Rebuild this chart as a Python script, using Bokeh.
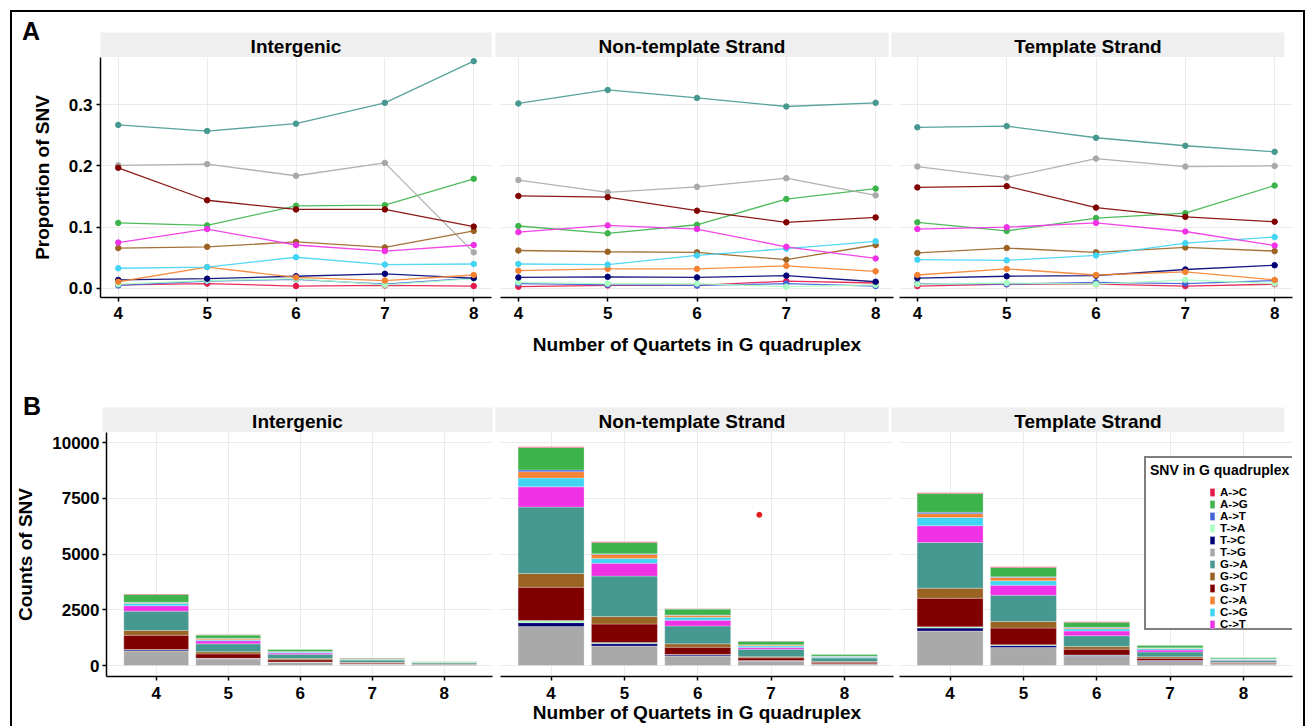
from bokeh.plotting import figure
from bokeh.layouts import row, column
from bokeh.models import (Range1d, FixedTicker, NumeralTickFormatter, Legend, LegendItem,
                          ColumnDataSource, Div)
from bokeh.embed import file_html
from bokeh.resources import INLINE
from bokeh.core.properties import value

FONT = "Liberation Sans"

# ---------------- data ----------------
quartets = [4, 5, 6, 7, 8]
facets = ["Intergenic", "Non-template Strand", "Template Strand"]

# legend order
snv_types = ["A->C", "A->G", "A->T", "T->A", "T->C", "T->G",
             "G->A", "G->C", "G->T", "C->A", "C->G", "C->T"]
snv_colors = ["#e6194b", "#3cb44b", "#4363d8", "#aaffc3", "#000075", "#a9a9a9",
              "#469990", "#9a6324", "#800000", "#f58231", "#42d4f4", "#f032e6"]
# stacking order in bars (bottom -> top)
stack_order = ["T->G", "T->C", "T->A", "G->T", "G->C", "G->A",
               "C->T", "C->G", "C->A", "A->T", "A->G", "A->C"]

# Proportion of SNV (panel A), per facet
prop_intergenic = {
    "A->C": [0.006, 0.008, 0.004, 0.005, 0.004],
    "A->G": [0.107, 0.103, 0.135, 0.136, 0.179],
    "A->T": [0.005, 0.012, 0.015, 0.007, 0.017],
    "T->A": [0.007, 0.013, 0.016, 0.006, 0.016],
    "T->C": [0.014, 0.016, 0.020, 0.024, 0.017],
    "T->G": [0.201, 0.203, 0.184, 0.205, 0.059],
    "G->A": [0.267, 0.257, 0.269, 0.303, 0.371],
    "G->C": [0.066, 0.068, 0.076, 0.067, 0.094],
    "G->T": [0.197, 0.144, 0.129, 0.129, 0.101],
    "C->A": [0.011, 0.035, 0.018, 0.013, 0.022],
    "C->G": [0.033, 0.035, 0.051, 0.039, 0.040],
    "C->T": [0.075, 0.097, 0.071, 0.061, 0.071],
}
prop_nontemplate = {
    "A->C": [0.003, 0.005, 0.005, 0.012, 0.009],
    "A->G": [0.102, 0.090, 0.104, 0.146, 0.163],
    "A->T": [0.008, 0.006, 0.005, 0.008, 0.004],
    "T->A": [0.010, 0.008, 0.008, 0.003, 0.006],
    "T->C": [0.018, 0.019, 0.018, 0.021, 0.011],
    "T->G": [0.177, 0.157, 0.166, 0.180, 0.152],
    "G->A": [0.302, 0.324, 0.311, 0.297, 0.303],
    "G->C": [0.062, 0.060, 0.059, 0.047, 0.071],
    "G->T": [0.151, 0.149, 0.127, 0.108, 0.116],
    "C->A": [0.029, 0.032, 0.032, 0.037, 0.028],
    "C->G": [0.040, 0.039, 0.054, 0.065, 0.077],
    "C->T": [0.092, 0.103, 0.097, 0.068, 0.049],
}
prop_template = {
    "A->C": [0.004, 0.007, 0.007, 0.004, 0.007],
    "A->G": [0.108, 0.094, 0.115, 0.123, 0.168],
    "A->T": [0.008, 0.007, 0.010, 0.008, 0.013],
    "T->A": [0.007, 0.009, 0.007, 0.014, 0.008],
    "T->C": [0.017, 0.020, 0.021, 0.031, 0.038],
    "T->G": [0.199, 0.181, 0.212, 0.199, 0.200],
    "G->A": [0.263, 0.265, 0.246, 0.233, 0.223],
    "G->C": [0.058, 0.066, 0.059, 0.067, 0.061],
    "G->T": [0.165, 0.167, 0.132, 0.117, 0.109],
    "C->A": [0.022, 0.032, 0.022, 0.027, 0.014],
    "C->G": [0.047, 0.046, 0.054, 0.074, 0.084],
    "C->T": [0.097, 0.100, 0.107, 0.093, 0.070],
}

# Total counts of SNV per bar (panel B)
total_intergenic = [3210, 1380, 730, 335, 180]
total_nontemplate = [9810, 5550, 2545, 1105, 510]
total_template = [7745, 4430, 1960, 915, 365]

# stray point visible in the Non-template counts panel
stray_x = [6.84]
stray_y = [6760]

prop_list = [prop_intergenic, prop_nontemplate, prop_template]
total_list = [total_intergenic, total_nontemplate, total_template]

# ---------------- helpers ----------------
GRID = "#ebebeb"


def style_axes(p, tick_size):
    for ax in p.axis:
        ax.axis_line_color = "black"
        ax.axis_line_width = 1.5
        ax.major_tick_line_color = "black"
        ax.major_tick_line_width = 1.5
        ax.major_tick_out = 4
        ax.major_tick_in = 0
        ax.minor_tick_line_color = None
        ax.major_label_text_font = FONT
        ax.major_label_text_font_style = "bold"
        ax.major_label_text_font_size = tick_size
        ax.major_label_text_color = "black"
        ax.axis_label_text_font = FONT
        ax.axis_label_text_font_style = "bold"
        ax.axis_label_text_font_size = "19px"
        ax.axis_label_text_color = "black"


def base_fig(width, height, xr, yr, left, right, top, bottom, show_y):
    p = figure(width=width, height=height, x_range=xr, y_range=yr, title=None,
               output_backend="svg", toolbar_location=None,
               y_axis_location="left" if show_y else None,
               min_border_left=left, min_border_right=right,
               min_border_top=top, min_border_bottom=bottom)
    p.outline_line_color = None
    p.border_fill_color = "white"
    p.background_fill_color = "white"
    p.grid.grid_line_color = GRID
    p.grid.grid_line_width = 1
    return p


def strip_fig(label, width, right, top):
    p = figure(width=width, height=top + 25, x_range=Range1d(0, 1), y_range=Range1d(0, 1),
               title=None, output_backend="svg", toolbar_location=None,
               x_axis_location=None, y_axis_location=None,
               min_border_left=0, min_border_right=right,
               min_border_top=top, min_border_bottom=0)
    p.grid.visible = False
    p.outline_line_color = None
    p.background_fill_color = "#efefef"
    p.border_fill_color = "white"
    p.text(x=[0.5], y=[0.45], text=[label], text_align="center", text_baseline="middle",
           text_font=value(FONT), text_font_style="bold", text_font_size="19px",
           text_color="black")
    return p


def letter_div(letter, width, height, dx, dy):
    html = ('<div style="position:relative; left:%dpx; top:%dpx; font-family:\'%s\';'
            ' font-weight:bold; font-size:25px; line-height:25px; color:black;">%s</div>'
            % (dx, dy, FONT, letter))
    return Div(text=html, width=width, height=height, margin=0)


# column geometry: (fig width, left border, right border)
geomA = [(483, 88, 4), (401, 5, 3), (407, 3, 11)]
geomB = [(483, 90, 3), (401, 5, 3), (407, 3, 11)]
XLABEL = "Number of Quartets in G quadruplex"

# ---------------- panel A ----------------
stripsA = [letter_div("A", 88, 45, 10, 7)]
mainsA = []
for i, (name, props) in enumerate(zip(facets, prop_list)):
    w, l, r = geomA[i]
    stripsA.append(strip_fig(name, w - l, r, 20))
    p = base_fig(w, 306, Range1d(3.8, 8.2), Range1d(-0.0147, 0.377), l, r, 0, 66, i == 0)
    p.xgrid.ticker = FixedTicker(ticks=quartets)
    p.ygrid.ticker = FixedTicker(ticks=[0.0, 0.1, 0.2, 0.3])
    for t, c in zip(snv_types, snv_colors):
        p.line(quartets, props[t], line_color=c, line_width=1.3, line_alpha=0.9)
        p.scatter(quartets, props[t], size=5.5, fill_color=c, line_color=c)
    p.xaxis.ticker = FixedTicker(ticks=quartets)
    p.xaxis.major_label_standoff = 5
    if i == 0:
        p.yaxis.ticker = FixedTicker(ticks=[0.0, 0.1, 0.2, 0.3])
        p.yaxis.formatter = NumeralTickFormatter(format="0.0")
        p.yaxis.axis_label = "Proportion of SNV"
        p.yaxis.axis_label_standoff = 13
        p.yaxis.major_label_standoff = 4
    if i == 1:
        p.xaxis.axis_label = XLABEL
        p.xaxis.axis_label_standoff = 12
    style_axes(p, "17px")
    mainsA.append(p)

# ---------------- panel B ----------------
stripsB = [letter_div("B", 90, 69, 11, 31)]
mainsB = []
for i, (name, props, totals) in enumerate(zip(facets, prop_list, total_list)):
    w, l, r = geomB[i]
    stripsB.append(strip_fig(name, w - l, r, 44))
    p = base_fig(w, 294, Range1d(3.31, 8.67), Range1d(-490, 10450), l, r, 0, 50, i == 0)
    p.xgrid.ticker = FixedTicker(ticks=quartets)
    p.ygrid.ticker = FixedTicker(ticks=[0, 2500, 5000, 7500, 10000])
    # counts per SNV type = bar total split by the panel-A shares
    data = {"x": quartets}
    sums = [sum(props[t][k] for t in snv_types) for k in range(len(quartets))]
    for t in snv_types:
        data[t] = [totals[k] * props[t][k] / sums[k] for k in range(len(quartets))]
    src = ColumnDataSource(data)
    stack_colors = [snv_colors[snv_types.index(t)] for t in stack_order]
    bars = p.vbar_stack(stack_order, x="x", width=0.9, source=src,
                        fill_color=stack_colors, line_color="white",
                        line_width=0.4, line_alpha=0.7)
    if i == 1:
        p.scatter(stray_x, stray_y, size=5, fill_color="#e41a1c", line_color="#e41a1c")
    p.xaxis.ticker = FixedTicker(ticks=quartets)
    p.xaxis.major_label_standoff = 6
    if i == 0:
        p.yaxis.ticker = FixedTicker(ticks=[0, 2500, 5000, 7500, 10000])
        p.yaxis.formatter = NumeralTickFormatter(format="0")
        p.yaxis.axis_label = "Counts of SNV"
        p.yaxis.axis_label_standoff = 13
        p.yaxis.major_label_standoff = 3
    if i == 1:
        p.xaxis.axis_label = XLABEL
        p.xaxis.axis_label_standoff = 0
    style_axes(p, "17px")
    if i == 2:
        # legend: a framed box with title, and the coloured entries centred inside it.
        # Both legends share the label font so their rows line up from the bottom.
        by_name = dict(zip(stack_order, bars))
        blank = p.vbar(x=[], top=[], width=0.9, fill_alpha=0, line_alpha=0)
        box_items = [LegendItem(label=t, renderers=[blank]) for t in snv_types]
        real_items = [LegendItem(label=t, renderers=[by_name[t]]) for t in snv_types]
        common = dict(label_text_font=FONT, label_text_font_style="bold",
                      label_text_font_size="11.5px",
                      label_height=10, glyph_height=10, glyph_width=6,
                      label_standoff=5, spacing=0, padding=4, margin=0)
        leg_box = Legend(items=box_items, location=(245, 46),
                         title="SNV in G quadruplex",
                         title_text_font=FONT, title_text_font_style="bold",
                         title_text_font_size="14px", title_standoff=2,
                         title_text_color="black", label_width=134,
                         label_text_color=None,
                         border_line_color="black", border_line_width=2,
                         background_fill_color="white", background_fill_alpha=1.0, **common)
        leg_items = Legend(items=real_items, location=(310, 46),
                           label_text_color="black",
                           border_line_color=None, background_fill_alpha=0.0, **common)
        p.add_layout(leg_box)
        p.add_layout(leg_items)
    mainsB.append(p)

layout = column(
    row(*stripsA), row(*mainsA), row(*stripsB), row(*mainsB),
    margin=(10, 0, 0, 10),
    styles={"border-top": "2px solid black", "border-left": "2px solid black",
            "border-right": "2px solid black"},
)

open("out.html", "w").write(file_html(layout, INLINE))
